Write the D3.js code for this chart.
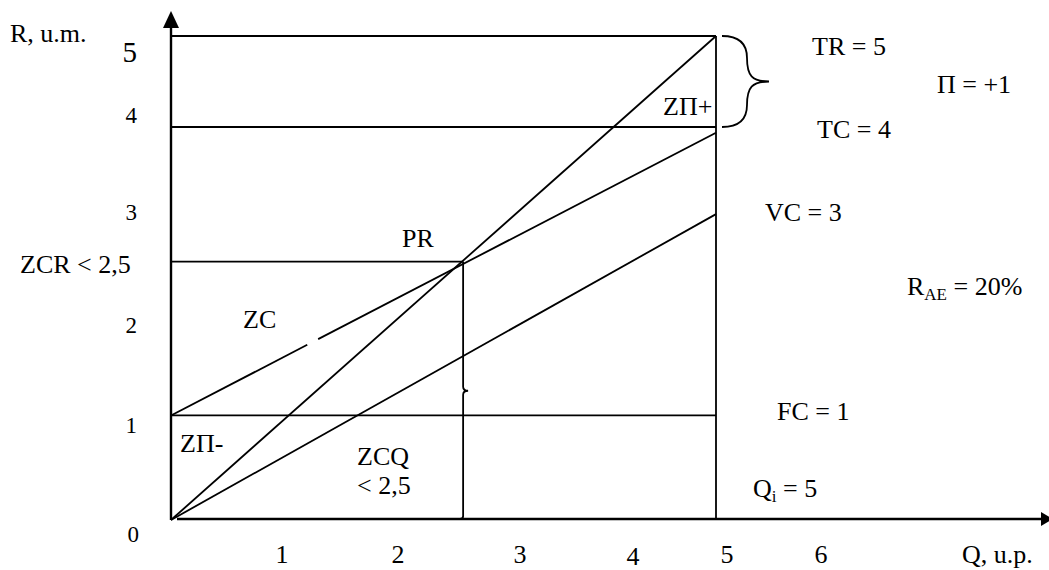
<!DOCTYPE html>
<html><head><meta charset="utf-8">
<script src="https://cdn.jsdelivr.net/npm/d3@7"></script>
<style>
html,body{margin:0;padding:0;background:#fff;}
svg{display:block;}
text{font-family:"Liberation Serif","Times New Roman",serif;fill:#000;}
</style>
</head><body>
<svg id="c" width="1049" height="570"></svg>
<script>
// ---------- data (in chart units) ----------
const qTickLabels = ["1","2","3","4","5","6"];
const rTickLabels = ["0","1","2","3","4","5"];
const qOutput = 5;                 // Qi
const trValues = [0, 5];           // total revenue at Q=0 and Q=Qi
const tcValues = [1.08, 4.0];      // total cost at Q=0 and Q=Qi
const vcValues = [0, 3.16];        // variable cost at Q=0 and Q=Qi
const fcValue = 1.08;              // fixed cost
const tcLevel = 4.06;              // horizontal TC level line
const breakEvenQ = 2.68;           // PR (break-even) quantity
const breakEvenR = 2.67;           // PR (break-even) revenue
const tcGap = [1.25, 1.35];        // small gap in TC line near "ZC"

// ---------- layout ----------
const svg = d3.select("#c");
const x = d3.scaleLinear().domain([0, 5]).range([171, 716]);
const y = d3.scaleLinear().domain([0, 5]).range([520, 36]);
// label placement scales (hand-set label layout as in the picture)
const xLab = d3.scaleLinear().domain([1,2,3,4,5,6]).range([282,398,520,633,727,821]);
const yLab = d3.scaleLinear().domain([0,1,2,3,4,5]).range([542,433,333,220,123,62]);

const g = svg.append("g");
const LW = 1.8, AW = 2.4;
function seg(q1,r1,q2,r2,w){
  g.append("line").attr("x1",x(q1)).attr("y1",y(r1)).attr("x2",x(q2)).attr("y2",y(r2))
   .attr("stroke","#000").attr("stroke-width",w||LW);
}

// axes
g.append("line").attr("x1",x(0)).attr("y1",y(0)).attr("x2",x(0)).attr("y2",24)
  .attr("stroke","#000").attr("stroke-width",AW);
g.append("path").attr("d",`M${x(0)},11 L${x(0)-8},28 L${x(0)+8},28 Z`).attr("fill","#000");
g.append("line").attr("x1",x(0)+6).attr("y1",y(0)-1).attr("x2",1043).attr("y2",y(0)-1)
  .attr("stroke","#000").attr("stroke-width",AW);
g.append("path").attr("d",`M1053,${y(0)-1} L1041,${y(0)-8} L1041,${y(0)+6} Z`).attr("fill","#000");

// horizontal level lines
seg(0, trValues[1], qOutput, trValues[1]);
seg(0, tcLevel, qOutput, tcLevel);
seg(0, breakEvenR, breakEvenQ, breakEvenR);
seg(0, fcValue, qOutput, fcValue);
// vertical Qi line
seg(qOutput, trValues[1], qOutput, 0);

// TR, VC lines
seg(0, trValues[0], qOutput, trValues[1]);
seg(0, vcValues[0], qOutput, vcValues[1]);
// TC line with gap
const tc = q => tcValues[0] + (tcValues[1]-tcValues[0]) * q / qOutput;
seg(0, tc(0), tcGap[0], tc(tcGap[0]));
seg(tcGap[1], tc(tcGap[1]), qOutput, tc(qOutput));

// PR brace (vertical, narrow)
{
  const bx = x(breakEvenQ), top = y(breakEvenR), bot = y(0), mid = (top+bot)/2;
  g.append("path").attr("fill","none").attr("stroke","#000").attr("stroke-width",LW)
   .attr("d",`M${bx},${top} L${bx},${mid-4} Q${bx},${mid} ${bx+5},${mid} Q${bx},${mid} ${bx},${mid+4} L${bx},${bot-4} Q${bx},${bot-1} ${bx-3},${bot-1}`);
}
// right brace between TR and TC level
{
  const bx = x(qOutput)+6, t = y(trValues[1]), b = y(tcLevel), m = (t+b)/2;
  g.append("path").attr("fill","none").attr("stroke","#000").attr("stroke-width",LW)
   .attr("d",`M${bx},${t} C${bx+20},${t} ${bx+25},${t+10} ${bx+25},${t+22} C${bx+25},${m-6} ${bx+30},${m} ${bx+47},${m} C${bx+30},${m} ${bx+25},${m+6} ${bx+25},${b-22} C${bx+25},${b-10} ${bx+20},${b} ${bx},${b}`);
}

// tick labels
g.selectAll(".qt").data(qTickLabels).enter().append("text")
  .attr("x",d=>xLab(+d)).attr("y",(d)=> d==="4"?565:563).attr("text-anchor","middle")
  .attr("font-size",26).text(d=>d);
g.selectAll(".rt").data(rTickLabels).enter().append("text")
  .attr("x",d=> d==="5"?137:(d==="0"?139:137)).attr("y",d=>yLab(+d)).attr("text-anchor","end")
  .attr("font-size",d=> d==="5"?29:23).text(d=>d);

// annotations (layout positions)
const notes = [
  {t:"R, u.m.", x:10, y:42},
  {t:"Q, u.p.", x:962, y:563},
  {t:"ZCR < 2,5", x:20, y:273},
  {t:"ZC", x:243, y:328},
  {t:"PR", x:402, y:247},
  {t:"ZΠ+", x:663, y:115},
  {t:"ZΠ-", x:180, y:452},
  {t:"ZCQ", x:357, y:465},
  {t:"< 2,5", x:357, y:494},
  {t:"TR = 5", x:812, y:55},
  {t:"TC = 4", x:817, y:138},
  {t:"Π = +1", x:937, y:93},
  {t:"VC = 3", x:765, y:221},
  {t:"FC = 1", x:777, y:420}
];
g.selectAll(".nt").data(notes).enter().append("text")
  .attr("x",d=>d.x).attr("y",d=>d.y).attr("font-size",26).text(d=>d.t);

// subscripted labels
const rae = g.append("text").attr("x",907).attr("y",295).attr("font-size",26);
rae.append("tspan").text("R");
rae.append("tspan").attr("font-size",17).attr("dy",5).text("AE");
rae.append("tspan").attr("dy",-5).text(" = 20%");
const qi = g.append("text").attr("x",753).attr("y",497).attr("font-size",26);
qi.append("tspan").text("Q");
qi.append("tspan").attr("font-size",17).attr("dy",5).text("i");
qi.append("tspan").attr("dy",-5).text(" = 5");
</script>
</body></html>
